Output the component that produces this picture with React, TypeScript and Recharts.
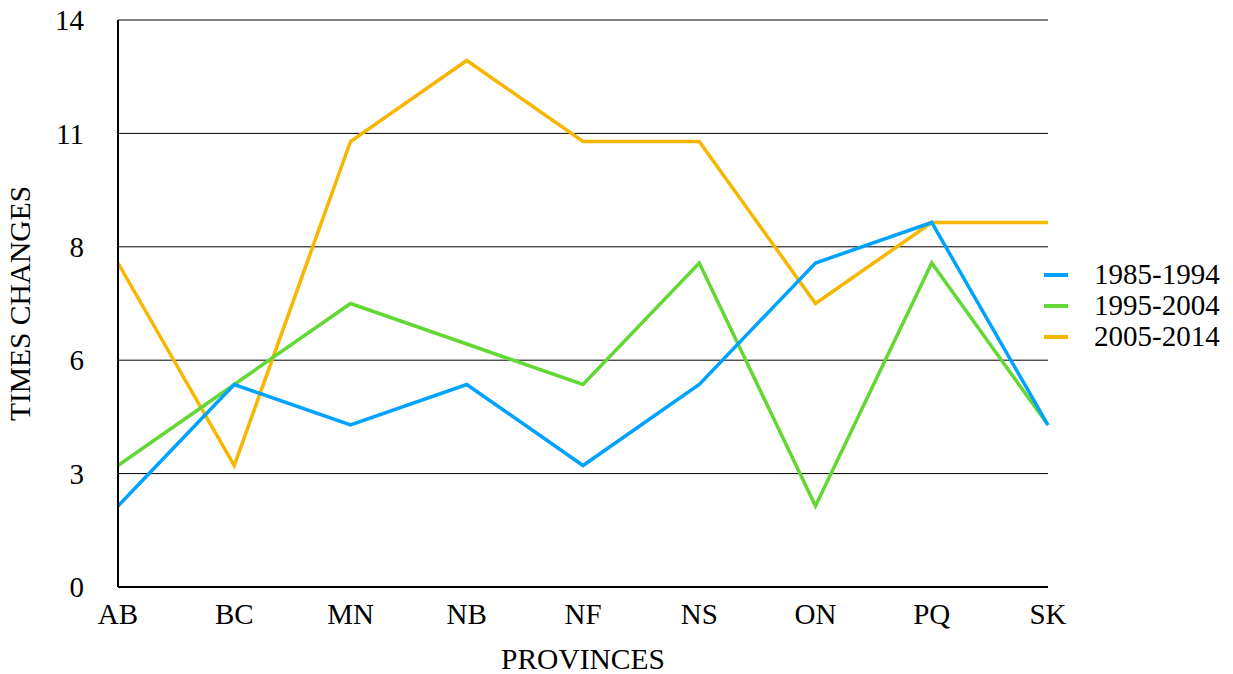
import React from 'react';
import { LineChart, Line, XAxis, YAxis, CartesianGrid, Legend } from 'recharts';

const provinces = ['AB', 'BC', 'MN', 'NB', 'NF', 'NS', 'ON', 'PQ', 'SK'];
const s1985 = [2, 5, 4, 5, 3, 5, 8, 9, 4];
const s1995 = [3, 5, 7, 6, 5, 8, 2, 8, 4];
const s2005 = [8, 3, 11, 13, 11, 11, 7, 9, 9];
const yTicks = [0, 2.8, 5.6, 8.4, 11.2, 14];

const seriesNames = ['1985-1994', '1995-2004', '2005-2014'];
const seriesColors = ['#00a2ff', '#62d835', '#f7b600'];

const data = provinces.map((p, i) => ({
  name: p,
  a: s1985[i],
  b: s1995[i],
  c: s2005[i],
}));

const FONT = '"Liberation Serif", "Times New Roman", serif';

const renderLegend = () => (
  <div style={{ fontFamily: FONT, fontSize: 29, color: '#000' }}>
    {seriesNames.map((n, i) => (
      <div key={n} style={{ display: 'flex', alignItems: 'center', height: 31, lineHeight: '31px' }}>
        <span style={{ display: 'inline-block', width: 24, height: 4, background: seriesColors[i], marginRight: 26 }} />
        <span>{n}</span>
      </div>
    ))}
  </div>
);

export default function App() {
  return (
    <div style={{ position: 'absolute', left: 0, top: 0 }}>
      <LineChart width={1233} height={674} data={data} margin={{ top: 20, right: 185, left: 0, bottom: 0 }}>
        <CartesianGrid horizontal={true} vertical={false} stroke="#000" strokeWidth={1} />
        <XAxis
          dataKey="name"
          scale="point"
          padding={{ left: 0, right: 0 }}
          height={87}
          axisLine={{ stroke: '#000', strokeWidth: 2 }}
          tickLine={false}
          tickSize={0}
          tickMargin={16}
          tick={{ fill: '#000', fontSize: 29, fontFamily: FONT }}
          label={{ value: 'PROVINCES', position: 'insideBottom', offset: 5, fill: '#000', fontSize: 29.5, fontFamily: FONT }}
        />
        <YAxis
          domain={[0, 14]}
          ticks={yTicks}
          interval={0}
          width={118}
          axisLine={{ stroke: '#000', strokeWidth: 2 }}
          tickLine={false}
          tickSize={0}
          tickMargin={34}
          tickFormatter={(v: number) => String(Math.round(v))}
          tick={{ fill: '#000', fontSize: 29, fontFamily: FONT }}
          label={{ value: 'TIMES CHANGES', angle: -90, position: 'insideLeft', offset: 20, fill: '#000', fontSize: 29.5, fontFamily: FONT, style: { textAnchor: 'middle' } }}
        />
        <Legend
          layout="vertical"
          align="center"
          verticalAlign="middle"
          content={renderLegend}
          wrapperStyle={{ left: 1044, top: 259, width: 189 }}
        />
        <Line type="linear" dataKey="c" name={seriesNames[2]} stroke={seriesColors[2]} strokeWidth={3.5} dot={false} isAnimationActive={false} />
        <Line type="linear" dataKey="b" name={seriesNames[1]} stroke={seriesColors[1]} strokeWidth={3.5} dot={false} isAnimationActive={false} />
        <Line type="linear" dataKey="a" name={seriesNames[0]} stroke={seriesColors[0]} strokeWidth={3.5} dot={false} isAnimationActive={false} />
      </LineChart>
    </div>
  );
}
